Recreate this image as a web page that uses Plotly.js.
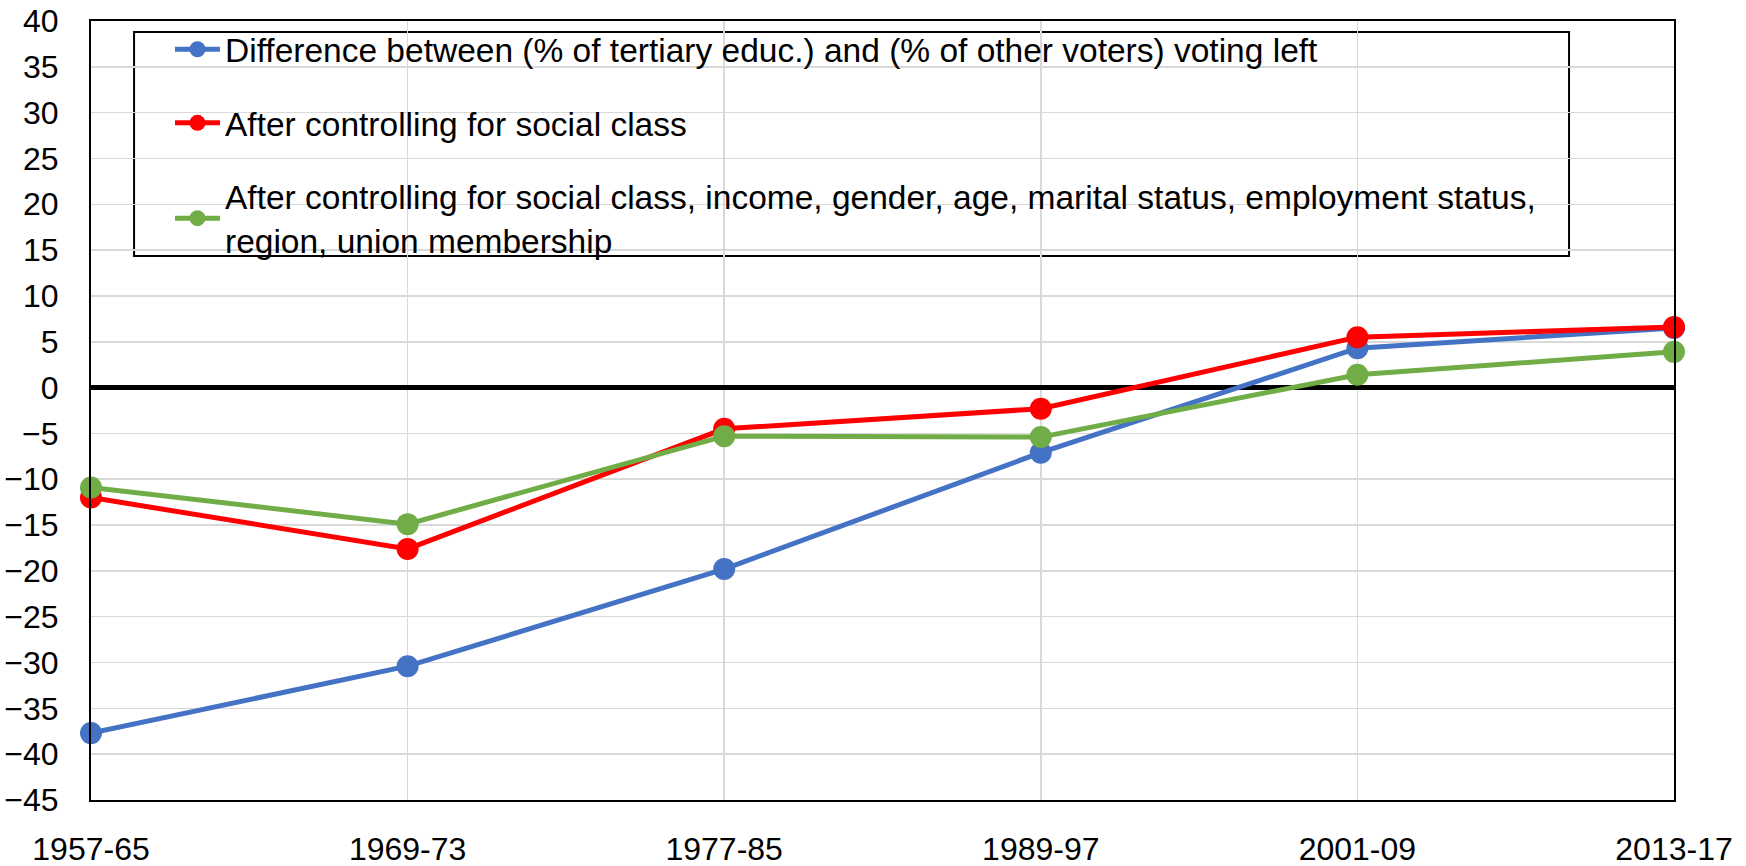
<!DOCTYPE html>
<html>
<head>
<meta charset="utf-8">
<script src="https://cdn.plot.ly/plotly-3.0.1.min.js"></script>
<style>
html,body{margin:0;padding:0;background:#fff;}
#chart{width:1746px;height:866px;}
</style>
</head>
<body>
<div id="chart"></div>
<script>
const periods = ["1957-65", "1969-73", "1977-85", "1989-97", "2001-09", "2013-17"];
const rawDifference = [-37.7, -30.4, -19.8, -7.1, 4.3, 6.5];
const controlClass = [-12.0, -17.6, -4.5, -2.3, 5.5, 6.6];
const controlAll = [-10.9, -14.9, -5.3, -5.4, 1.4, 3.9];
const seriesNames = [
  "Difference between (% of tertiary educ.) and (% of other voters) voting left",
  "After controlling for social class",
  "After controlling for social class, income, gender, age, marital status, employment status,<br>region, union membership"
];
const seriesColors = ["#4472C4", "#FF0000", "#70AD47"];
const seriesValues = [rawDifference, controlClass, controlAll];

const FONT = "Liberation Sans, Arial, sans-serif";

const traces = seriesValues.map((vals, i) => ({
  type: "scatter",
  mode: "lines+markers",
  x: periods,
  y: vals,
  name: seriesNames[i],
  legendgroup: "g" + i,
  cliponaxis: false,
  line: {color: seriesColors[i], width: 5},
  marker: {color: seriesColors[i], size: 22}
}));

const layout = {
  width: 1746,
  height: 866,
  margin: {l: 91, r: 72, t: 21, b: 66},
  paper_bgcolor: "#ffffff",
  plot_bgcolor: "#ffffff",
  font: {family: FONT, color: "#000000", size: 32},
  showlegend: true,
  legend: {
    x: 0.0499, y: 1.0, xanchor: "left", yanchor: "top",
    bgcolor: "rgba(0,0,0,0)",
    borderwidth: 0,
    font: {family: FONT, size: 33.5, color: "#000000"},
    traceorder: "grouped",
    tracegroupgap: 27,
    itemwidth: 45
  },
  shapes: [{
    type: "rect", xref: "paper", yref: "paper",
    x0: 0.0272, x1: 0.9337, y0: 0.6983, y1: 0.9859,
    line: {color: "#000000", width: 2},
    fillcolor: "#ffffff",
    layer: "between"
  }],
  xaxis: {
    type: "category",
    range: [0, 5],
    showgrid: true,
    gridcolor: "#D9D9D9",
    gridwidth: 1.5,
    showline: true,
    linecolor: "#000000",
    linewidth: 2,
    mirror: true,
    ticks: "",
    ticklabelstandoff: 20,
    tickfont: {family: FONT, size: 32, color: "#000000"},
    zeroline: false
  },
  yaxis: {
    range: [-45, 40],
    dtick: 5,
    tick0: 0,
    showgrid: true,
    gridcolor: "#D9D9D9",
    gridwidth: 1.5,
    showline: true,
    linecolor: "#000000",
    linewidth: 2,
    mirror: true,
    ticks: "",
    ticklabelstandoff: 24,
    tickfont: {family: FONT, size: 32, color: "#000000"},
    zeroline: true,
    zerolinecolor: "#000000",
    zerolinewidth: 5
  }
};

Plotly.newPlot("chart", traces, layout, {displayModeBar: false, staticPlot: true});
</script>
</body>
</html>
